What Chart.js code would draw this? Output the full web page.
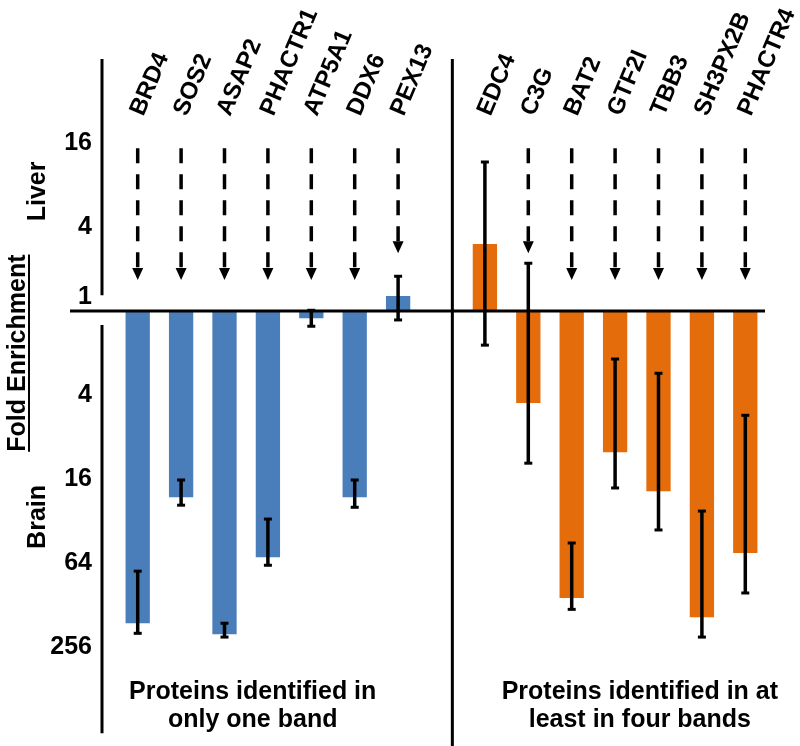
<!DOCTYPE html>
<html>
<head>
<meta charset="utf-8">
<script src="https://cdn.jsdelivr.net/npm/chart.js@4.4.0/dist/chart.umd.min.js"></script>
<style>
  html, body { margin: 0; padding: 0; background: #fff; }
  #wrap { width: 800px; height: 746px; }
</style>
</head>
<body>
<div id="wrap"><canvas id="bar-chart"></canvas></div>
<script>
var FONT = '"Liberation Sans", Arial, sans-serif';

// values are log2(liver / brain): positive = liver enriched, negative = brain enriched
var oneBandNames = ['BRD4', 'SOS2', 'ASAP2', 'PHACTR1', 'ATP5A1', 'DDX6', 'PEX13'];
var oneBandLog2 = [-7.43, -4.43, -7.69, -5.86, -0.17, -4.43, 0.36];
var oneBandErrHi = [-6.19, -4.02, -7.43, -4.95, 0.02, -4.02, 0.83];
var oneBandErrLo = [-7.67, -4.62, -7.76, -6.05, -0.36, -4.67, -0.21];
var oneBandArrowTip = [0.74, 0.74, 0.74, 0.74, 0.74, 0.74, 1.38];

var fourBandNames = ['EDC4', 'C3G', 'BAT2', 'GTF2I', 'TBB3', 'SH3PX2B', 'PHACTR4'];
var fourBandLog2 = [1.6, -2.19, -6.83, -3.36, -4.29, -7.29, -5.76];
var fourBandErrHi = [3.55, 1.14, -5.52, -1.14, -1.48, -4.76, -2.48];
var fourBandErrLo = [-0.81, -3.62, -7.1, -4.21, -5.21, -7.76, -6.71];
var fourBandArrowTip = [null, 1.38, 0.74, 0.74, 0.74, 0.74, 0.74];

var arrowTop = 3.88;
var yTickVals = [4, 2, -2, -4, -6, -8];

function nulls(n) {
    var a = [];
    for (var i = 0; i < n; i++) a.push(null);
    return a;
}

var labels = oneBandNames.concat([''], fourBandNames);
var errHi = oneBandErrHi.concat([null], fourBandErrHi);
var errLo = oneBandErrLo.concat([null], fourBandErrLo);
var arrowTips = oneBandArrowTip.concat([null], fourBandArrowTip);

function vText(ctx, txt, x, y, size) {
    ctx.save();
    ctx.translate(x, y);
    ctx.rotate(-Math.PI / 2);
    ctx.font = 'bold ' + size + 'px ' + FONT;
    ctx.fillText(txt, 0, 0);
    var w = ctx.measureText(txt).width;
    ctx.restore();
    return w;
}

// dashed arrows, error bars, axis lines and free text
var decor = {
    id: 'decor',
    afterDatasetsDraw: function(chart) {
        var ctx = chart.ctx;
        var x = chart.scales.x;
        var y = chart.scales.y;
        var area = chart.chartArea;
        var zeroY = y.getPixelForValue(0);
        var step = x.getPixelForValue(1) - x.getPixelForValue(0);

        ctx.save();
        ctx.strokeStyle = '#000';
        ctx.fillStyle = '#000';

        // axis lines
        ctx.lineWidth = 3;
        ctx.beginPath();
        ctx.moveTo(area.left - 46, zeroY);
        ctx.lineTo(area.right - 2, zeroY);
        var lx = area.left - 14;
        ctx.moveTo(lx, y.getPixelForValue(6));
        ctx.lineTo(lx, y.getPixelForValue(0.38));
        ctx.moveTo(lx, y.getPixelForValue(-0.33));
        ctx.lineTo(lx, y.getPixelForValue(-10.05));
        var dx = x.getPixelForValue(7) + step * 0.25;
        ctx.moveTo(dx, y.getPixelForValue(6));
        ctx.lineTo(dx, chart.height);
        ctx.stroke();

        // dashed arrows
        arrowTips.forEach(function(tip, i) {
            if (tip === null) return;
            var px = x.getPixelForValue(i);
            var yTip = y.getPixelForValue(tip);
            var head = 12;
            ctx.lineWidth = 3.5;
            ctx.setLineDash([15, 11]);
            ctx.beginPath();
            ctx.moveTo(px, y.getPixelForValue(arrowTop));
            ctx.lineTo(px, yTip - head);
            ctx.stroke();
            ctx.setLineDash([]);
            ctx.beginPath();
            ctx.moveTo(px - 5.5, yTip - head);
            ctx.lineTo(px + 5.5, yTip - head);
            ctx.lineTo(px, yTip);
            ctx.closePath();
            ctx.fill();
        });

        // error bars
        ctx.lineWidth = 3.5;
        labels.forEach(function(l, i) {
            if (errHi[i] === null) return;
            var px = x.getPixelForValue(i);
            var y1 = y.getPixelForValue(errHi[i]);
            var y2 = y.getPixelForValue(errLo[i]);
            ctx.beginPath();
            ctx.moveTo(px, y1);
            ctx.lineTo(px, y2);
            ctx.stroke();
            ctx.fillRect(px - 4, y1 - 1.5, 8, 3);
            ctx.fillRect(px - 4, y2 - 1.5, 8, 3);
        });

        // text
        ctx.textBaseline = 'middle';
        ctx.textAlign = 'right';
        ctx.font = 'bold 25px ' + FONT;
        ctx.fillText('1', area.left - 24, zeroY - 14);

        ctx.textAlign = 'center';
        vText(ctx, 'Liver', 38, y.getPixelForValue(2.85), 25);
        vText(ctx, 'Brain', 38, y.getPixelForValue(-4.9), 25);
        var w = vText(ctx, 'Fold Enrichment', 18, y.getPixelForValue(-1.0), 25);
        ctx.fillRect(28, y.getPixelForValue(-1.0) - w / 2, 2, w);

        ctx.font = 'bold 25px ' + FONT;
        var lxText = x.getPixelForValue(2.65);
        var rxText = x.getPixelForValue(11.57);
        ctx.fillText('Proteins identified in', lxText, y.getPixelForValue(-9.07));
        ctx.fillText('only one band', lxText, y.getPixelForValue(-9.74));
        ctx.fillText('Proteins identified in at', rxText, y.getPixelForValue(-9.07));
        ctx.fillText('least in four bands', rxText, y.getPixelForValue(-9.74));

        ctx.restore();
    }
};

var ctx = document.getElementById('bar-chart');
var barChart = new Chart(ctx, {
    type: 'bar',
    data: {
        labels: labels,
        datasets: [{
            label: 'Proteins identified in only one band',
            data: oneBandLog2.concat(nulls(8)),
            backgroundColor: 'rgb(74, 126, 187)'
        }, {
            label: 'Proteins identified in at least in four bands',
            data: nulls(8).concat(fourBandLog2),
            backgroundColor: 'rgb(228, 108, 10)'
        }]
    },
    options: {
        responsive: true,
        maintainAspectRatio: false,
        animation: false,
        skipNull: true,
        categoryPercentage: 1,
        barPercentage: 0.56,
        layout: { padding: { top: 0, right: 33, bottom: 6, left: 0 } },
        plugins: {
            legend: { display: false },
            tooltip: { enabled: false }
        },
        scales: {
            x: {
                position: 'top',
                grid: { display: false, drawTicks: false },
                border: { display: false },
                afterFit: function(scale) { scale.height = 120; },
                ticks: {
                    autoSkip: false,
                    minRotation: 67,
                    maxRotation: 67,
                    padding: 0,
                    labelOffset: 26,
                    color: '#000',
                    font: { family: FONT, size: 24, weight: 'bold' }
                }
            },
            y: {
                min: -10.21,
                max: 4.55,
                grid: { display: false, drawTicks: false },
                border: { display: false },
                afterFit: function(scale) {
                    scale.width = 116;
                    scale.paddingTop = 0;
                    scale.paddingBottom = 0;
                },
                afterBuildTicks: function(scale) {
                    scale.ticks = yTickVals.map(function(v) { return { value: v }; });
                },
                ticks: {
                    padding: 24,
                    color: '#000',
                    font: { family: FONT, size: 25, weight: 'bold' },
                    callback: function(v) { return String(Math.pow(2, Math.abs(v))); }
                }
            }
        }
    },
    plugins: [decor]
});
</script>
</body>
</html>
